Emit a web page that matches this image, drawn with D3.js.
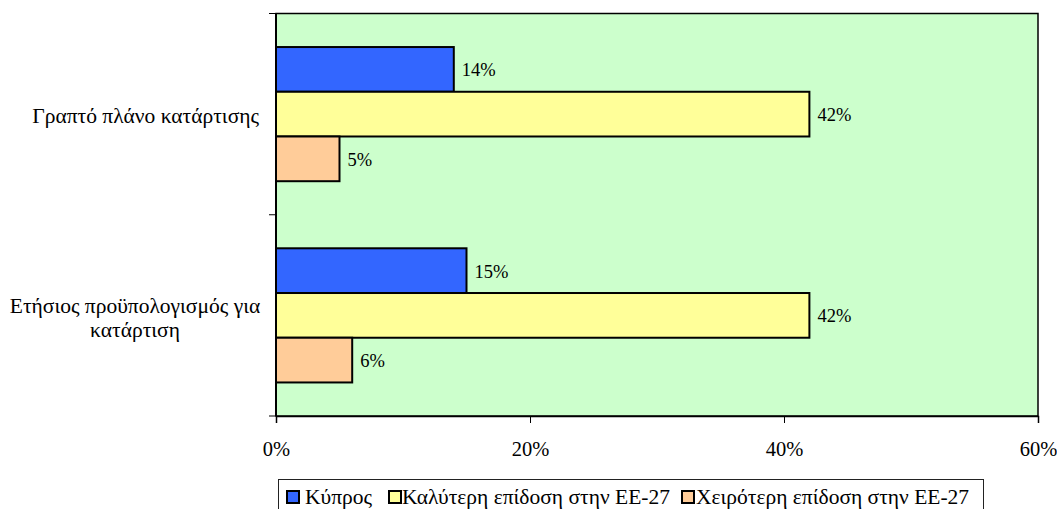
<!DOCTYPE html>
<html><head><meta charset="utf-8">
<script src="https://cdn.jsdelivr.net/npm/d3@7"></script>
<style>
html,body{margin:0;padding:0;background:#fff;}
</style></head>
<body>
<svg id="chart" width="1057" height="509"></svg>
<script>
const categories = ["Γραπτό πλάνο κατάρτισης", "Ετήσιος προϋπολογισμός για κατάρτιση"];
const categoryLines = [["Γραπτό πλάνο κατάρτισης"], ["Ετήσιος προϋπολογισμός για", "κατάρτιση"]];
const seriesNames = ["Κύπρος", "Καλύτερη επίδοση στην ΕΕ-27", "Χειρότερη επίδοση στην ΕΕ-27"];
const cyprus = [14, 15];
const bestEU = [42, 42];
const worstEU = [5, 6];
const xTicks = [0, 20, 40, 60];
const colors = ["#3366FF", "#FFFF99", "#FFCC99"];

const FONT = "'Liberation Serif', 'Times New Roman', serif";
const seriesValues = [cyprus, bestEU, worstEU];
const svg = d3.select("#chart");
const L = 276, R = 1038, T = 13.5, B = 416;

const x = d3.scaleLinear().domain([0, 60]).range([L, R]);
const y = d3.scaleBand().domain(categories).range([T, B]).padding(0);
const band = y.bandwidth();
const yInner = d3.scaleBand().domain(seriesNames).range([band / 6, band * 5 / 6]).padding(0);

svg.append("rect").attr("x", L).attr("y", T).attr("width", R - L).attr("height", B - T)
  .attr("fill", "#CCFFCC").attr("stroke", "#000").attr("stroke-width", 1.5);

const groups = svg.selectAll("g.cat").data(categories).enter().append("g")
  .attr("transform", d => `translate(0,${y(d)})`);
seriesNames.forEach((s, si) => {
  groups.append("rect")
    .attr("x", x(0))
    .attr("y", yInner(s))
    .attr("width", (d, ci) => x(seriesValues[si][ci]) - x(0))
    .attr("height", yInner.bandwidth())
    .attr("fill", colors[si]).attr("stroke", "#000").attr("stroke-width", 2);
  groups.append("text")
    .attr("x", (d, ci) => x(seriesValues[si][ci]) + 8)
    .attr("y", yInner(s) + yInner.bandwidth() / 2)
    .attr("dy", "0.38em")
    .attr("font-family", FONT)
    .attr("font-size", 18.5)
    .attr("fill", "#000")
    .text((d, ci) => seriesValues[si][ci] + "%");
});

const xAxis = d3.axisBottom(x).tickValues(xTicks).tickFormat(d => d + "%").tickSize(7).tickPadding(18.5);
const gx = svg.append("g").attr("transform", `translate(0,${B})`).call(xAxis)
  .attr("font-family", FONT).attr("font-size", 20.5);
gx.select(".domain").attr("stroke", "#000").attr("stroke-width", 1.5);
gx.selectAll(".tick line").attr("stroke", "#000");
gx.selectAll(".tick text").attr("fill", "#000");

const bounds = [T, ...categories.map(c => y(c) + band)];
svg.selectAll("line.ytick").data(bounds).enter().append("line")
  .attr("x1", L - 7).attr("x2", L).attr("y1", d => d).attr("y2", d => d)
  .attr("stroke", "#000");
svg.append("line").attr("x1", L).attr("x2", L).attr("y1", T).attr("y2", B).attr("stroke", "#000").attr("stroke-width", 2);

categories.forEach((c, ci) => {
  const lines = categoryLines[ci];
  const cy = y(c) + band / 2 + 1.75;
  const lh = 24;
  const t = svg.append("text").attr("font-family", FONT).attr("font-size", 21.5).attr("fill", "#000")
    .attr("text-anchor", lines.length > 1 ? "middle" : "end");
  lines.forEach((ln, li) => {
    t.append("tspan")
      .attr("x", lines.length > 1 ? 135 : 259)
      .attr("y", cy + (li - (lines.length - 1) / 2) * lh)
      .attr("dy", "0.35em")
      .text(ln);
  });
});

const lg = svg.append("g");
lg.append("rect").attr("x", 278.5).attr("y", 479.5).attr("width", 705).attr("height", 40)
  .attr("fill", "#fff").attr("stroke", "#222").attr("stroke-width", 1);
const markerX = [287, 389, 682];
const textX = [305, 402, 696];
seriesNames.forEach((s, si) => {
  lg.append("rect").attr("x", markerX[si]).attr("y", 491).attr("width", 12).attr("height", 12)
    .attr("fill", colors[si]).attr("stroke", "#000").attr("stroke-width", 2);
  lg.append("text").attr("x", textX[si]).attr("y", 503.5).attr("font-family", FONT)
    .attr("font-size", 21.5).attr("fill", "#000").text(s);
});
</script>
</body></html>
